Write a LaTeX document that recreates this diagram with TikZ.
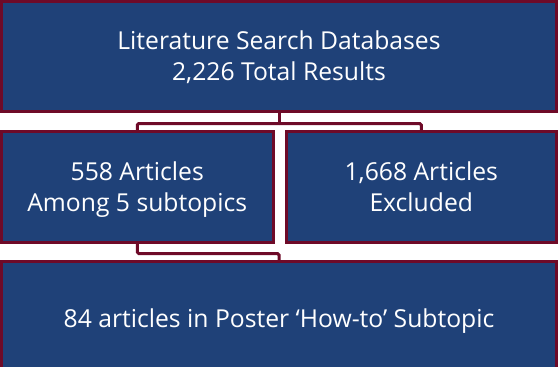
\documentclass[tikz,border=0pt]{standalone}
\usepackage{fontspec}
\setmainfont{Open Sans}
\definecolor{boxblue}{RGB}{31,65,120}
\definecolor{boxred}{RGB}{110,10,40}
\begin{document}
\begin{tikzpicture}[x=1pt,y=-1pt,
  box/.style={draw=boxred, fill=boxblue, line width=3pt, text=white,
    font=\fontsize{24.7}{31}\selectfont, align=center, inner sep=0pt,
    text height=48.6pt, text depth=0pt},
  onebox/.style={box, text height=17.6pt},
  link/.style={draw=boxred, line width=3pt, rounded corners=1.5pt}]
\useasboundingbox (0,0) rectangle (560,367);
\node[box, minimum width=555pt, minimum height=109.5pt] (top) at (279,56.25)
  {Literature Search Databases\\2,226 Total Results};
\node[box, minimum width=271.5pt, minimum height=110.5pt] (left) at (137.25,186.75)
  {558 Articles\\Among 5 subtopics};
\node[box, minimum width=270.5pt, minimum height=110.5pt] (right) at (421.25,186.75)
  {1,668 Articles\\Excluded};
\node[onebox, minimum width=555pt, minimum height=113.5pt] (bottom) at (279,318.25)
  {84 articles in Poster ‘How-to’ Subtopic};
\draw[link] (top.south) -- ++(0,11) coordinate (j1);
\draw[link] (j1) -| (left.north);
\draw[link] (j1) -| (right.north);
\draw[link] (left.south) -- ++(0,10) -| (bottom.north);
\end{tikzpicture}
\end{document}
